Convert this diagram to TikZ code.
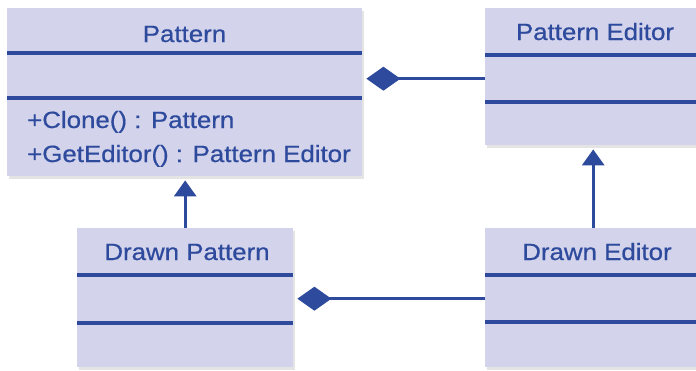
\documentclass[tikz,border=0pt]{standalone}
\usepackage{fontspec}
\setmainfont{Liberation Sans}[FakeStretch=1.1,FakeBold=0.6]
\usetikzlibrary{arrows.meta,shadows}
\definecolor{ink}{HTML}{2D4A9C}
\definecolor{boxfill}{HTML}{D3D3EB}
\begin{document}
\begin{tikzpicture}[x=1pt,y=-1pt,
  cls/.style={fill=boxfill, draw=none, inner sep=0pt, anchor=north west,
    drop shadow={shadow xshift=2pt, shadow yshift=-3pt, fill=black!30, opacity=0.35}},
  part/.style={draw=none, inner sep=0pt, anchor=north west},
  sep/.style={draw=ink, line width=3.2pt},
  ttl/.style={text=ink, inner sep=0pt, anchor=base, font=\fontsize{23.5}{28}\selectfont},
  ops/.style={text=ink, inner sep=0pt, anchor=base west, font=\fontsize{23.5}{28}\selectfont},
  gen/.style={draw=ink, line width=3.2pt, shorten >=4pt, -{Triangle[width=22pt,length=16pt]}},
  comp/.style={draw=ink, line width=3.2pt, shorten >=4pt, -{Diamond[width=24pt,length=34pt]}}]
\useasboundingbox (0,0) rectangle (696,370);
% Pattern
\node[cls, minimum width=355pt, minimum height=168pt] (pat) at (7,8) {};
\node[part, minimum width=355pt, minimum height=45pt] (patT) at (7,8) {};
\node[part, minimum width=355pt, minimum height=45pt] (patA) at (7,53) {};
\node[part, minimum width=355pt, minimum height=78pt] (patO) at (7,98) {};
\draw[sep] (patA.north west) -- (patA.north east);
\draw[sep] (patO.north west) -- (patO.north east);
\node[ttl] (patTitle) at (184.5,42) {Pattern};
\node[ops] (patOp1) at (27,128) {+Clone() : Pattern};
\node[ops] (patOp2) at (27,162) {+GetEditor() : Pattern Editor};
% Pattern Editor
\node[cls, minimum width=220pt, minimum height=137pt] (pe) at (485,8) {};
\node[part, minimum width=220pt, minimum height=47pt] (peA) at (485,55) {};
\node[part, minimum width=220pt, minimum height=43pt] (peO) at (485,102) {};
\draw[sep] (peA.north west) -- (peA.north east);
\draw[sep] (peO.north west) -- (peO.north east);
\node[ttl] (peTitle) at (595,40) {Pattern Editor};
% Drawn Pattern
\node[cls, minimum width=216pt, minimum height=139pt] (dp) at (77,228) {};
\node[part, minimum width=216pt, minimum height=48pt] (dpA) at (77,275) {};
\node[part, minimum width=216pt, minimum height=44pt] (dpO) at (77,323) {};
\draw[sep] (dpA.north west) -- (dpA.north east);
\draw[sep] (dpO.north west) -- (dpO.north east);
\node[ttl] (dpTitle) at (187,260) {Drawn Pattern};
% Drawn Editor
\node[cls, minimum width=220pt, minimum height=139pt] (de) at (485,228) {};
\node[part, minimum width=220pt, minimum height=47pt] (deA) at (485,275) {};
\node[part, minimum width=220pt, minimum height=45pt] (deO) at (485,322) {};
\draw[sep] (deA.north west) -- (deA.north east);
\draw[sep] (deO.north west) -- (deO.north east);
\node[ttl] (deTitle) at (597,260) {Drawn Editor};
% connectors
\draw[gen] (dp.north) -- (dp.north |- pat.south);
\draw[gen] ([xshift=-2pt]de.north) -- ([xshift=-2pt]de.north |- pe.south);
\draw[comp] (peA.west) -- (patA.east |- peA.west);
\draw[comp] (deA.west) -- (dpA.east |- deA.west);
\end{tikzpicture}
\end{document}
